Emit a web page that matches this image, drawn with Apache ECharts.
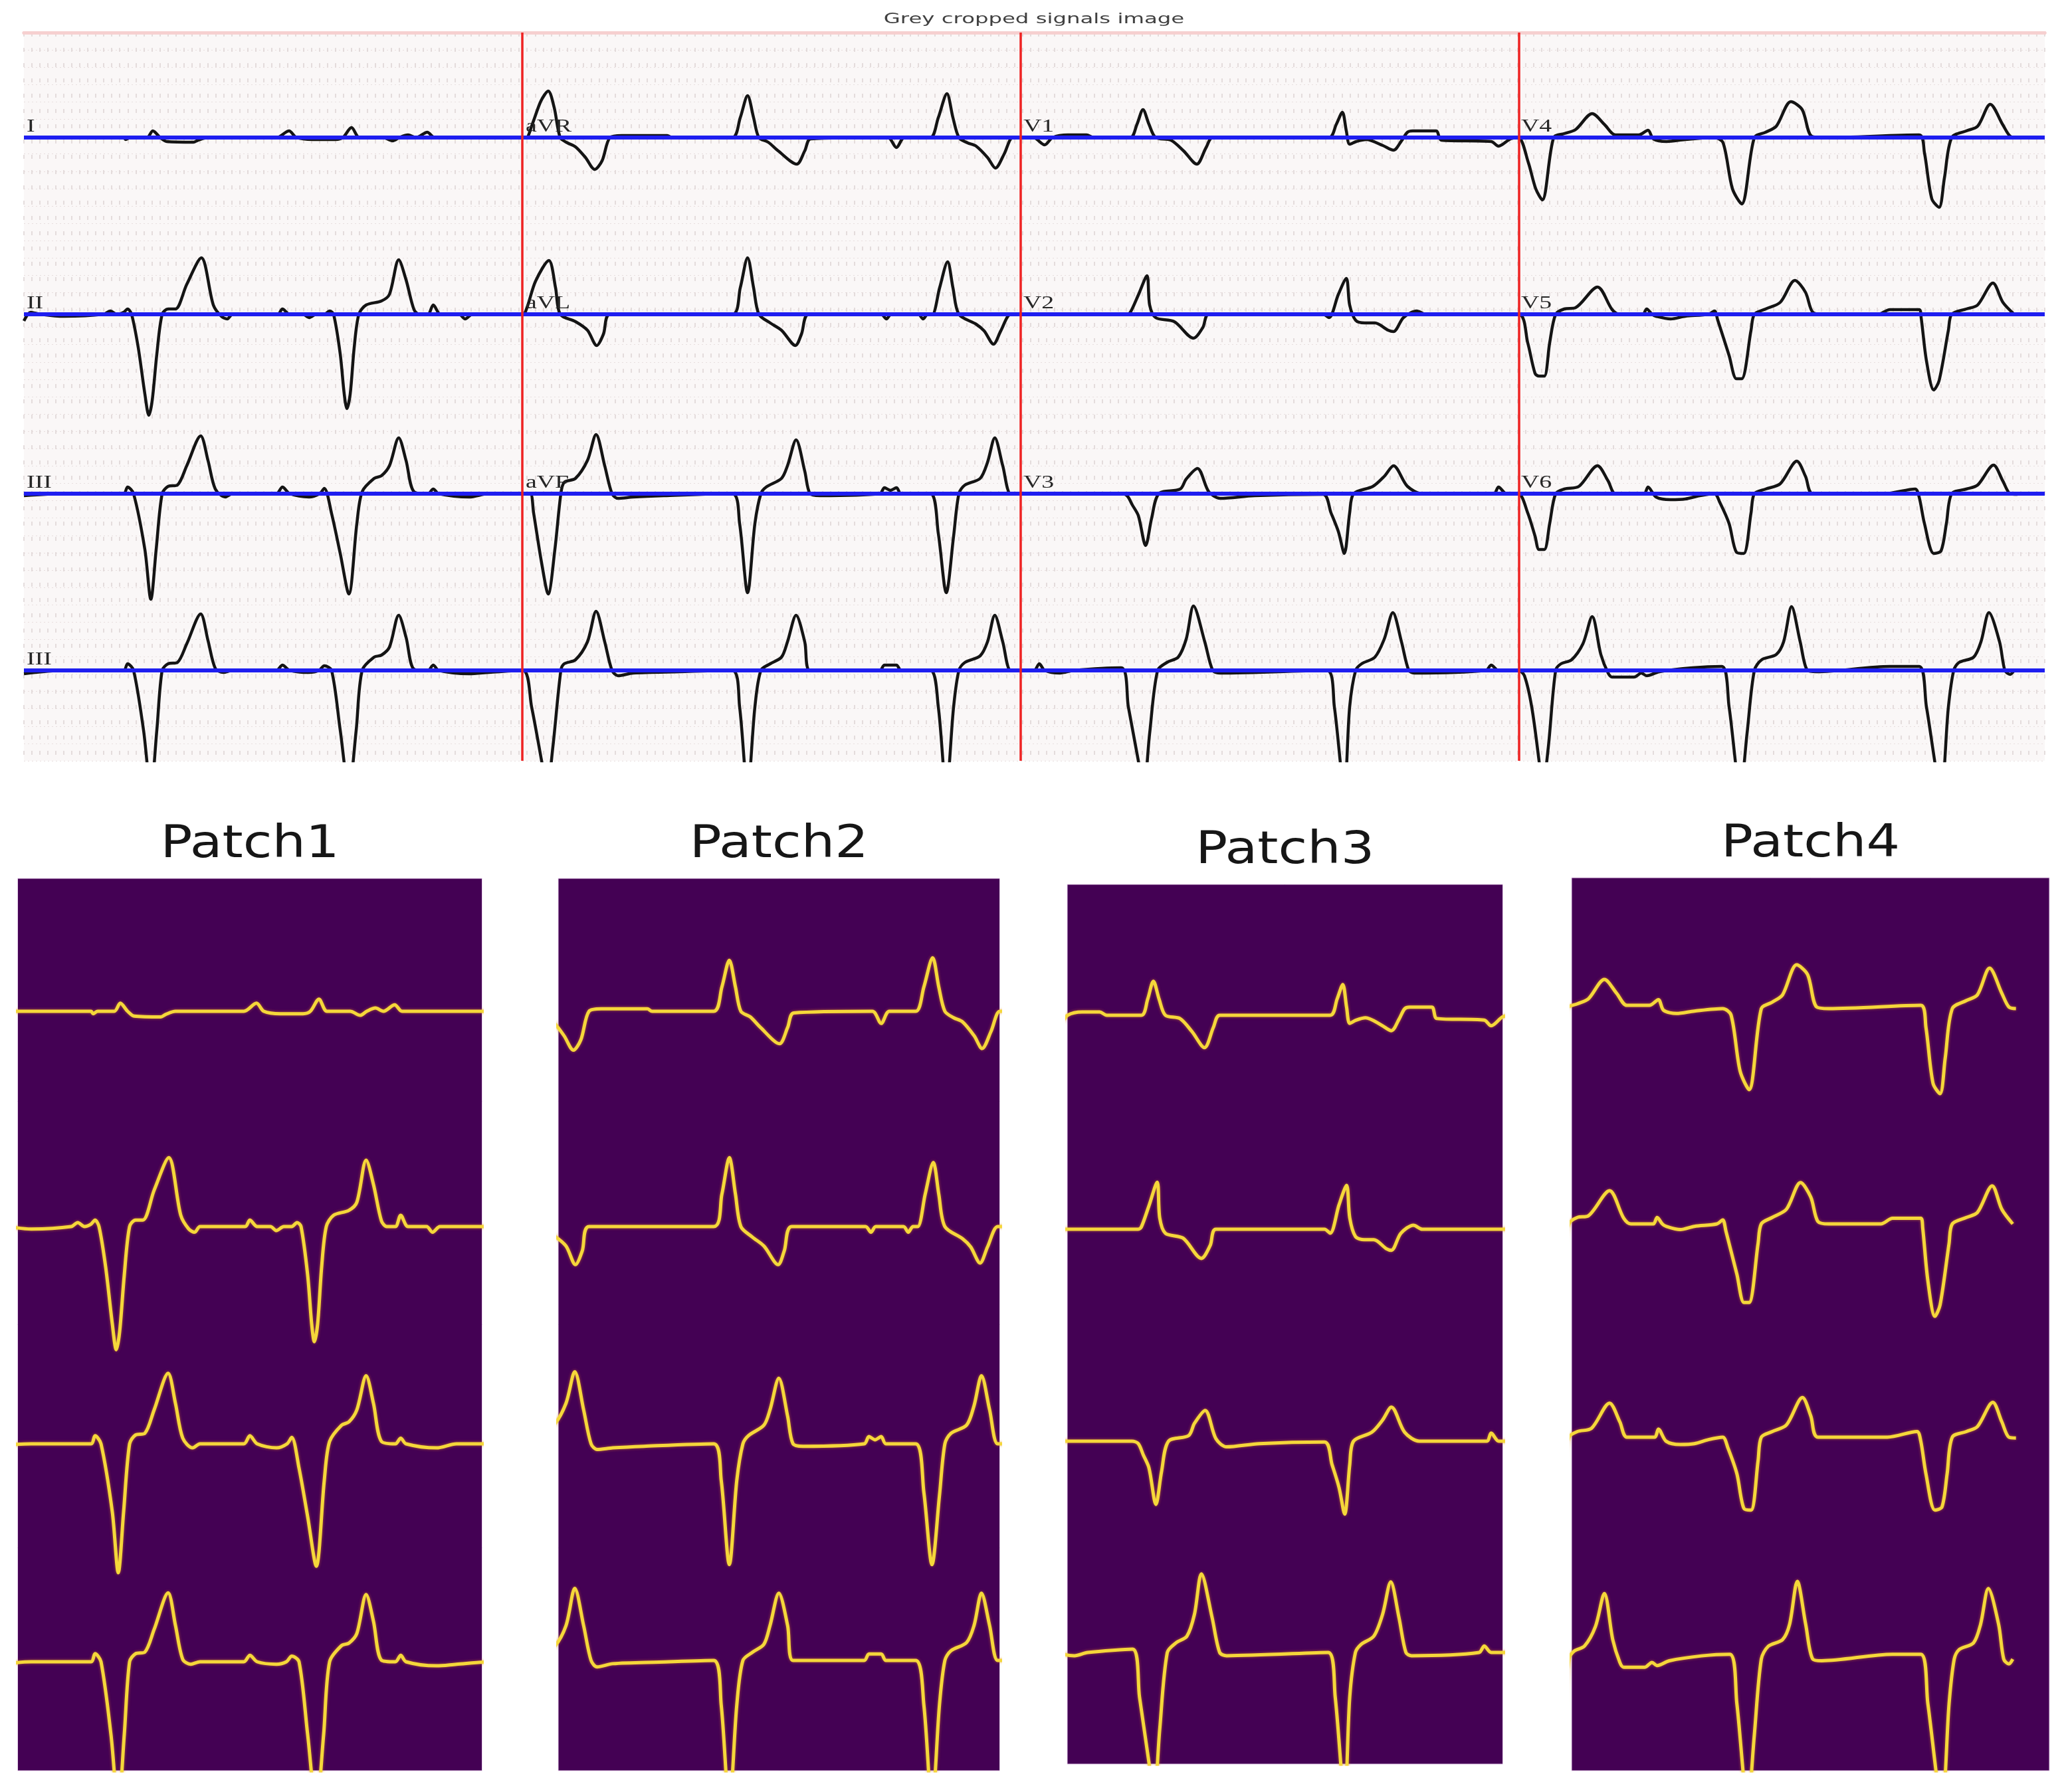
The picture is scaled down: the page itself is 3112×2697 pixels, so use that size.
<!DOCTYPE html>
<html><head><meta charset="utf-8">
<script src="https://cdn.jsdelivr.net/npm/echarts@6/dist/echarts.min.js"></script>
<style>html,body{margin:0;padding:0;background:#fff}#c{width:3112px;height:2697px}</style>
</head><body><div id="c"></div><script>
// ---- DATA: x = sample index (~300 Hz), y = amplitude (mV-like units) ----
const row1 = [
[0,0],[150,0],[153,-0.03],[160,0],[185,0],[194,0.1],[205,0],[215,-0.06],[255,-0.07],[262,-0.04],[277,0],[380,0],[399,0.1],[410,0],[435,-0.03],[469,-0.03],[480,0],[493,0.15],[505,0],[540,0],[555,-0.05],[565,0],[578,0.04],[590,0],[607,0.08],[618,0],[751,0],
[756,0],[765,0.2],[778,0.55],[789,0.70],[798,0.45],[807,0],[818,-0.08],[830,-0.14],[845,-0.3],[859,-0.48],[870,-0.35],[882,0],[900,0.03],[968,0.03],[975,0],[1066,0],[1078,0.3],[1089,0.63],[1098,0.3],[1106,0],[1120,-0.07],[1135,-0.2],[1163,-0.40],[1175,-0.2],[1184,-0.02],[1300,0],[1313,-0.15],[1325,0],[1364,0],[1376,0.3],[1389,0.66],[1398,0.3],[1407,0],[1420,-0.08],[1433,-0.13],[1450,-0.3],[1462,-0.46],[1475,-0.25],[1488,0],[1500,0],
[1519,0],[1536,-0.11],[1548,0],[1571,0.04],[1599,0.04],[1610,0],[1665,0],[1675,0.2],[1684,0.42],[1693,0.2],[1703,0],[1726,-0.04],[1745,-0.2],[1765,-0.40],[1779,-0.15],[1789,0],[1964,0],[1975,0.2],[1984,0.38],[1990,0.1],[1995,-0.1],[2005,-0.06],[2020,-0.03],[2045,-0.12],[2061,-0.19],[2073,-0.05],[2082,0.08],[2090,0.1],[2125,0.1],[2133,-0.04],[2208,-0.06],[2219,-0.13],[2237,-0.02],[2249,0],
[2264,-0.38],[2275,-0.77],[2285,-0.94],[2302,0],[2318,0.06],[2335,0.12],[2360,0.36],[2379,0.19],[2395,0.04],[2430,0.04],[2444,0.11],[2452,-0.02],[2472,-0.06],[2500,-0.03],[2544,0],[2557,-0.08],[2571,-0.77],[2585,-1.0],[2604,0],[2621,0.08],[2637,0.17],[2659,0.54],[2676,0.42],[2690,0.02],[2709,0],[2852,0.04],[2860,-0.23],[2871,-0.92],[2882,-1.05],[2890,-0.61],[2901,0],[2923,0.1],[2940,0.17],[2959,0.50],[2978,0.19],[2989,0.02],[3000,0]
];
const row2 = [
[0,-0.1],[10,0.03],[25,0],[60,-0.03],[120,0],[130,0.05],[140,0],[150,0.03],[156,0.08],[162,0],[172,-0.5],[182,-1.2],[188,-1.52],[193,-1.3],[200,-0.6],[208,0],[217,0.08],[228,0.08],[245,0.45],[267,0.85],[285,0.14],[297,-0.03],[306,-0.07],[314,0],[382,0],[389,0.08],[400,0],[420,0],[429,-0.05],[440,0],[452,0],[460,0.05],[466,0],[476,-0.6],[482,-1.2],[486,-1.42],[491,-1.2],[497,-0.5],[504,0],[515,0.14],[538,0.2],[550,0.3],[564,0.82],[575,0.52],[587,0.07],[595,0],[608,0],[616,0.14],[627,0],[655,0],[664,-0.07],[675,0],[751,0],
[757,0.1],[770,0.5],[790,0.81],[800,0.4],[807,0],[830,-0.11],[848,-0.24],[862,-0.47],[872,-0.3],[882,0],[1066,0],[1078,0.4],[1089,0.85],[1098,0.4],[1106,0],[1123,-0.13],[1140,-0.24],[1161,-0.47],[1170,-0.3],[1181,0],[1290,0],[1298,-0.07],[1305,0],[1346,0],[1353,-0.07],[1360,0],[1367,0],[1378,0.4],[1390,0.79],[1398,0.4],[1407,0],[1433,-0.15],[1445,-0.25],[1459,-0.45],[1470,-0.25],[1485,0],[1500,0],
[1660,0],[1665,0.03],[1677,0.29],[1690,0.58],[1694,0.14],[1703,-0.05],[1731,-0.11],[1760,-0.36],[1774,-0.2],[1783,0],[1955,0],[1964,-0.05],[1978,0.3],[1990,0.54],[1995,0.14],[2004,-0.09],[2018,-0.13],[2033,-0.13],[2053,-0.24],[2061,-0.26],[2076,-0.05],[2096,0.05],[2110,0],[2249,0],
[2263,-0.43],[2274,-0.89],[2280,-0.93],[2288,-0.93],[2296,-0.43],[2305,0],[2318,0.08],[2335,0.1],[2368,0.41],[2390,0.07],[2401,0],[2436,0],[2442,0.08],[2450,0],[2456,-0.03],[2478,-0.07],[2500,-0.03],[2535,0],[2544,0.05],[2549,-0.09],[2566,-0.62],[2577,-0.97],[2585,-0.97],[2599,-0.24],[2604,0],[2621,0.08],[2643,0.18],[2665,0.51],[2681,0.33],[2692,0.03],[2709,0],[2790,0],[2808,0.07],[2852,0.07],[2855,-0.05],[2863,-0.70],[2874,-1.14],[2882,-1.0],[2896,-0.24],[2901,0],[2923,0.08],[2940,0.14],[2963,0.47],[2978,0.18],[2995,0]
];
const row3 = [
[0,-0.03],[60,0],[150,0],[156,0.1],[165,0],[182,-0.84],[191,-1.59],[199,-0.84],[208,0],[217,0.11],[231,0.13],[245,0.42],[266,0.87],[277,0.5],[288,0.07],[303,-0.05],[314,0],[380,0],[389,0.1],[400,0],[429,-0.05],[445,0],[452,0.08],[463,-0.3],[476,-0.9],[489,-1.51],[501,-0.45],[509,0.03],[527,0.23],[538,0.27],[550,0.42],[564,0.84],[575,0.5],[587,0.03],[608,0],[616,0.07],[624,0],[670,-0.05],[700,0],[751,0],
[762,0],[767,-0.29],[779,-1.04],[789,-1.51],[799,-0.84],[808,0],[813,0.17],[830,0.23],[848,0.5],[861,0.89],[874,0.42],[885,0],[894,-0.07],[917,-0.05],[963,-0.03],[1066,0],[1077,-0.45],[1089,-1.49],[1100,-0.45],[1109,0],[1117,0.1],[1140,0.23],[1149,0.42],[1162,0.81],[1175,0.34],[1183,0],[1198,-0.03],[1288,0],[1295,0.09],[1304,0.05],[1313,0.09],[1320,0],[1364,0],[1376,-0.6],[1388,-1.49],[1399,-0.64],[1407,0],[1416,0.13],[1439,0.23],[1450,0.47],[1461,0.84],[1473,0.42],[1485,0],[1500,0],
[1650,0],[1660,-0.03],[1668,-0.17],[1677,-0.33],[1688,-0.78],[1697,-0.37],[1708,0],[1740,0.07],[1749,0.22],[1766,0.38],[1783,0.03],[1800,-0.07],[1852,-0.03],[1955,-0.01],[1967,-0.29],[1978,-0.57],[1987,-0.90],[1995,-0.29],[2001,0],[2030,0.11],[2047,0.26],[2061,0.42],[2082,0.11],[2105,0],[2212,0],[2219,0.1],[2231,0],[2249,0],
[2263,-0.29],[2274,-0.64],[2280,-0.84],[2288,-0.84],[2296,-0.45],[2305,0],[2318,0.07],[2340,0.11],[2368,0.42],[2384,0.19],[2395,0],[2438,0],[2444,0.1],[2456,-0.05],[2478,-0.09],[2500,-0.08],[2522,-0.03],[2544,0],[2552,-0.13],[2566,-0.45],[2577,-0.88],[2588,-0.9],[2599,-0.29],[2604,0],[2621,0.07],[2643,0.15],[2668,0.49],[2681,0.26],[2692,0],[2800,0],[2846,0.07],[2852,-0.05],[2860,-0.45],[2874,-0.9],[2885,-0.86],[2893,-0.45],[2901,0],[2923,0.07],[2940,0.13],[2964,0.43],[2978,0.19],[2989,0],[3000,-0.01]
];
const row4 = [
[0,-0.05],[60,0],[150,0],[156,0.1],[165,0],[180,-0.9],[191,-1.8],[200,-0.9],[208,0],[217,0.1],[231,0.12],[245,0.4],[266,0.85],[277,0.45],[288,0.03],[300,-0.03],[314,0],[380,0],[389,0.08],[400,0],[429,-0.03],[444,0],[452,0.07],[463,0],[476,-0.9],[489,-1.8],[500,-0.9],[509,0],[527,0.2],[538,0.23],[550,0.35],[564,0.83],[575,0.5],[587,0.02],[608,0],[616,0.08],[624,0],[670,-0.05],[700,-0.03],[751,0],
[764,-0.55],[779,-1.36],[787,-1.8],[796,-1.15],[808,0],[813,0.1],[830,0.16],[848,0.43],[861,0.89],[874,0.43],[885,0],[894,-0.08],[917,-0.04],[986,-0.02],[1066,0],[1077,-0.55],[1089,-1.8],[1100,-0.55],[1109,0],[1123,0.1],[1140,0.2],[1149,0.43],[1162,0.83],[1175,0.43],[1183,0],[1288,0],[1295,0.08],[1313,0.08],[1320,0],[1364,0],[1376,-0.55],[1388,-1.8],[1399,-0.55],[1407,0],[1416,0.12],[1439,0.22],[1450,0.43],[1461,0.83],[1473,0.43],[1485,0],[1500,0],
[1520,0],[1528,0.1],[1536,0],[1559,-0.04],[1580,0],[1651,0.04],[1662,-0.55],[1677,-1.36],[1685,-1.8],[1694,-0.95],[1706,0],[1720,0.12],[1737,0.2],[1749,0.47],[1760,0.97],[1777,0.43],[1789,0],[1800,-0.04],[1961,0],[1972,-0.55],[1987,-1.8],[1995,-0.55],[2004,0],[2013,0.1],[2033,0.2],[2047,0.47],[2060,0.87],[2073,0.43],[2084,0],[2093,-0.04],[2200,0],[2208,0.08],[2219,0],[2249,0],
[2258,-0.08],[2269,-0.55],[2280,-1.36],[2285,-1.8],[2294,-1.15],[2305,0],[2313,0.1],[2329,0.16],[2346,0.4],[2360,0.81],[2373,0.24],[2384,-0.04],[2390,-0.1],[2423,-0.1],[2434,-0.04],[2442,-0.08],[2461,-0.02],[2511,0.04],[2555,0.06],[2566,-0.55],[2583,-1.8],[2593,-0.95],[2604,0],[2615,0.16],[2637,0.24],[2648,0.43],[2660,0.96],[2673,0.43],[2684,0],[2698,-0.02],[2808,0.06],[2852,0.06],[2863,-0.55],[2885,-1.8],[2896,-0.55],[2904,0],[2912,0.12],[2934,0.2],[2945,0.43],[2957,0.87],[2973,0.43],[2981,0],[2989,-0.06],[2995,0]
];
const leadSwitch = [750, 1500, 2250];
const leadNames = [['I','aVR','V1','V4'],['II','aVL','V2','V5'],['III','aVF','V3','V6'],['III']];
const patchNames = ['Patch1','Patch2','Patch3','Patch4'];
const patchWindows = [[39.5,738.5],[836.5,1488],[1547.5,2237.5],[2309,3052]];
const mainTitle = 'Grey cropped signals image';

// ---- LAYOUT ----
const rows = [row1,row2,row3,row4];
const TOP = {l:36,t:49,r:3077,b:1145,base:[207,473,743,1009],ppu:100,xmin:0,xmax:3041};
const PATCH = [
 {l:26.5,t:1322,r:725.5,b:2665,base:[1522,1846,2173,2501]},
 {l:840,t:1322,r:1504.5,b:2665,base:[1522,1846,2173,2499]},
 {l:1606,t:1331,r:2261.5,b:2655,base:[1528,1850,2169,2487]},
 {l:2365,t:1321,r:3084,b:2665,base:[1518,1842,2163,2497]}
];
const PPU_PATCH = 122;
const labelX = [40, 791, 1540, 2289];

const grid=[], xAxis=[], yAxis=[], series=[], graphic=[];
// background paper grid
grid.push({left:TOP.l, top:TOP.t, width:TOP.r-TOP.l, height:TOP.b-TOP.t, show:true, backgroundColor:'#faf7f7', borderWidth:0});
xAxis.push({gridIndex:0, type:'value', min:0, max:3036, interval:12, position:'bottom',
  axisLine:{show:true, lineStyle:{color:'#f6d0d0', width:5}}, axisTick:{show:false}, axisLabel:{show:false},
  splitLine:{show:true, lineStyle:{color:'#ddd3d3', width:1.5, type:[6,17]}}});
xAxis.push({gridIndex:0, type:'value', min:0, max:3036, position:'top',
  axisLine:{show:true, lineStyle:{color:'#f6d0d0', width:5}}, axisTick:{show:false}, axisLabel:{show:false}, splitLine:{show:false}});
yAxis.push({gridIndex:0, type:'value', min:0, max:1092, interval:26, inverse:true,
  axisLine:{show:false}, axisTick:{show:false}, axisLabel:{show:false},
  splitLine:{show:true, lineStyle:{color:'#e8dfdf', width:1, type:[2,4]}}});

function addPanelAxes(gridOpt, xmin, xmax, ymin, ymax){
  const gi = grid.length; grid.push(gridOpt);
  const xi = xAxis.length; xAxis.push({gridIndex:gi, type:'value', min:xmin, max:xmax, show:false});
  const yi = yAxis.length; yAxis.push({gridIndex:gi, type:'value', min:ymin, max:ymax, show:false});
  return [xi, yi];
}

// top rows
rows.forEach((data,i)=>{
  const [xi, yi] = addPanelAxes({left:TOP.l, top:TOP.t, width:TOP.r-TOP.l, height:TOP.b-TOP.t},
    TOP.xmin, TOP.xmax, -(TOP.b-TOP.base[i])/TOP.ppu, (TOP.base[i]-TOP.t)/TOP.ppu);
  const ml = [{yAxis:0}];
  if(i===rows.length-1) leadSwitch.forEach(v=>ml.push({xAxis:v, lineStyle:{color:'#ee2222', width:3.5, type:'solid'}}));
  series.push({type:'line', xAxisIndex:xi, yAxisIndex:yi, data:data, showSymbol:false, smooth:0.3,
    lineStyle:{color:'#141414', width:4.5}, z:3, silent:true,
    markLine:{symbol:'none', silent:true, label:{show:false},
      lineStyle:{color:'#1e1ef0', width:6, type:'solid'}, data:ml}});
  leadNames[i].forEach((nm,c)=>{
    graphic.push({type:'text', x:labelX[c], y:TOP.base[i]-2, scaleX:1.35, z:20,
      style:{text:nm, font:'28px "Liberation Serif"', fill:'#262626', textAlign:'left', textVerticalAlign:'bottom'}});
  });
});

// patches
PATCH.forEach((p,k)=>{
  rows.forEach((data,i)=>{
    const [xi, yi] = addPanelAxes({left:p.l, top:p.t, width:p.r-p.l, height:p.b-p.t, show:i===0, backgroundColor:'#440154', borderColor:'#e8d4ec', borderWidth:1},
      patchWindows[k][0], patchWindows[k][1], -(p.b-p.base[i])/PPU_PATCH, (p.base[i]-p.t)/PPU_PATCH);
    series.push({type:'line', xAxisIndex:xi, yAxisIndex:yi, data:data, showSymbol:false, smooth:0.3,
      lineStyle:{color:'#f5d73a', width:5, shadowColor:'rgba(235,140,40,0.6)', shadowBlur:4}, z:3, silent:true});
  });
  graphic.push({type:'text', x:(p.l+p.r)/2, y:p.t-50, scaleX:1.17, z:20,
    style:{text:patchNames[k], font:'68px "DejaVu Sans"', fill:'#161616', textAlign:'center', textVerticalAlign:'middle'}});
});

graphic.push({type:'text', x:1556, y:29, scaleX:1.47, z:20,
  style:{text:mainTitle, font:'22px "DejaVu Sans"', fill:'#404040', textAlign:'center', textVerticalAlign:'middle'}});

const chart = echarts.init(document.getElementById('c'), null, {renderer:'canvas'});
chart.setOption({animation:false, backgroundColor:'#ffffff', grid, xAxis, yAxis, series, graphic});
</script></body></html>
